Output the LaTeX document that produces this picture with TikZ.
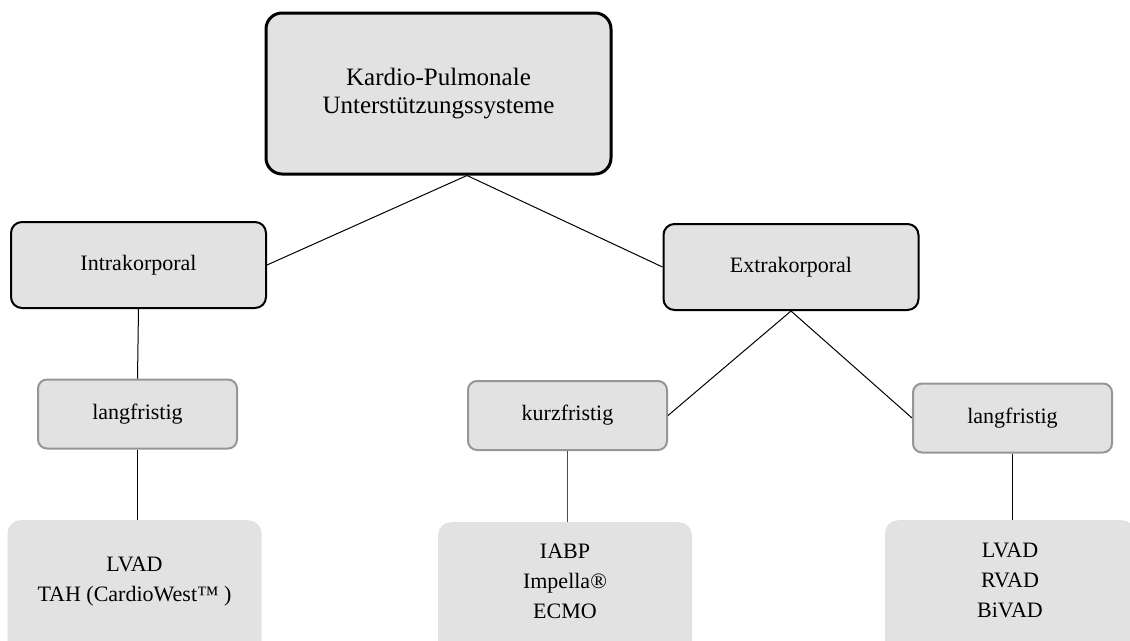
\documentclass[tikz,border=0pt]{standalone}
\usepackage{fontspec}
\setmainfont{Liberation Serif}
\definecolor{boxgray}{RGB}{226,226,226}
\definecolor{edgegray}{RGB}{150,150,150}

\begin{document}
\begin{tikzpicture}[x=1pt, y=-1pt]

    \tikzstyle{every node}=[font=\fontsize{22}{30}\selectfont, align=center, inner sep=0pt]
    \tikzstyle{rootbox}=[draw, line width=3pt, rounded corners=16pt, fill=boxgray,
        minimum width=345pt, minimum height=161pt, font=\fontsize{25}{28}\selectfont]
    \tikzstyle{groupbox}=[draw, line width=2pt, rounded corners=11pt, fill=boxgray,
        minimum width=255pt, minimum height=86pt]
    \tikzstyle{termbox}=[draw=edgegray, line width=2pt, rounded corners=9pt, fill=boxgray,
        minimum width=199pt, minimum height=69pt]
    \tikzstyle{devbox}=[fill=boxgray, rounded corners=13pt, minimum width=254pt, minimum height=140pt, anchor=north]
    \tikzstyle{link}=[line width=1pt]

    % Fix the page size
    \useasboundingbox (0,0) rectangle (1130,640);

    % Draw the root box
    \node[rootbox] (root) at (438.5,93.5) {Kardio-Pulmonale\\Unterst\"utzungssysteme};
    \coordinate (split) at ([xshift=28.5pt]root.south);

    % Draw the two groups
    \node[groupbox] (intra) at (138.5,265) {Intrakorporal};
    \node[groupbox] (extra) at (791,267) {Extrakorporal};

    % Draw the duration boxes
    \node[termbox] (intralang) at (137.5,414) {langfristig};
    \node[termbox] (extrakurz) at (567.5,415.5) {kurzfristig};
    \node[termbox] (extralang) at (1012.5,418) {langfristig};

    % Draw the device boxes (cut by the page bottom)
    \node[devbox] (intradev) at (134.5,520) {};
    \node[devbox] (kurzdev) at (565,522) {};
    \node[devbox, minimum width=250pt] (langdev) at (1010,520) {};
    \node (intradevtext) at (134.5,582) {LVAD\\TAH (CardioWest™ )};
    \node (kurzdevtext) at (565,581) {IABP\\Impella®\\ECMO};
    \node (langdevtext) at (1010,580) {LVAD\\RVAD\\BiVAD};

    % Add the connectors
    \draw[link] (split) -- (intra.east);
    \draw[link] (split) -- (extra.west);
    \draw[link] (intra.south) -- (intralang.north);
    \draw[link] (intralang.south) -- (intralang.south |- intradev.north);
    \draw[link] (extra.south) -- (extrakurz.east);
    \draw[link] (extra.south) -- (extralang.west);
    \draw[link, black!70] (extrakurz.south) -- (extrakurz.south |- kurzdev.north);
    \draw[link] (extralang.south) -- (extralang.south |- langdev.north);

\end{tikzpicture}
\end{document}
